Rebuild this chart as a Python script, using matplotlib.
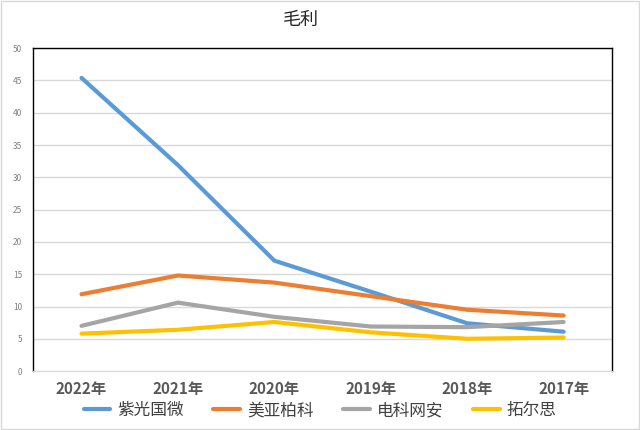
import matplotlib.pyplot as plt

plt.rcParams['font.family'] = ['Noto Sans CJK SC', 'DejaVu Sans']

years = ["2022年", "2021年", "2020年", "2019年", "2018年", "2017年"]
ziguang = [45.4, 31.9, 17.1, 12.3, 7.4, 6.1]
meiya = [11.9, 14.8, 13.7, 11.6, 9.5, 8.6]
dianke = [7.0, 10.6, 8.4, 6.9, 6.8, 7.6]
tuoersi = [5.8, 6.4, 7.6, 6.0, 5.0, 5.2]

series = [
    ("紫光国微", ziguang, "#5B9BD5"),
    ("美亚柏科", meiya, "#ED7D31"),
    ("电科网安", dianke, "#A5A5A5"),
    ("拓尔思", tuoersi, "#FFC000"),
]

fig = plt.figure(figsize=(6.4, 4.3), dpi=100)
ax = fig.add_axes([0.052, 0.137, 0.904, 0.751])

x = list(range(len(years)))
for name, vals, color in series:
    ax.plot(x, vals, color=color, linewidth=3, label=name, solid_capstyle="round")

ax.set_xlim(-0.5, len(years) - 0.5)
ax.set_ylim(0, 50)
ax.set_yticks(range(0, 51, 5))
ax.set_xticks(x)
ax.set_xticklabels(years, fontsize=11, fontweight="bold", color="#595959")
ax.tick_params(axis="y", labelsize=6, colors="#808080", length=0, pad=8)
ax.tick_params(axis="x", length=0, pad=7)
ax.grid(axis="y", color="#D9D9D9", linewidth=1)
ax.set_axisbelow(True)

for side in ["left", "top", "right"]:
    ax.spines[side].set_color("black")
    ax.spines[side].set_linewidth(1)
ax.spines["bottom"].set_color("#D9D9D9")

fig.text(0.47, 0.953, "毛利", ha="center", va="center", fontsize=13, color="#262626")

leg = fig.legend(loc="center", bbox_to_anchor=(0.5, 0.045), ncol=4, frameon=False,
                 fontsize=12, handlelength=1.6, handletextpad=0.4, columnspacing=1.8)
for t in leg.get_texts():
    t.set_color("#404040")

border = plt.Rectangle((0.002, 0.002), 0.996, 0.996, transform=fig.transFigure,
                       fill=False, edgecolor="#D9D9D9", linewidth=1)
fig.patches.append(border)

fig.savefig("out.png", dpi=100)
